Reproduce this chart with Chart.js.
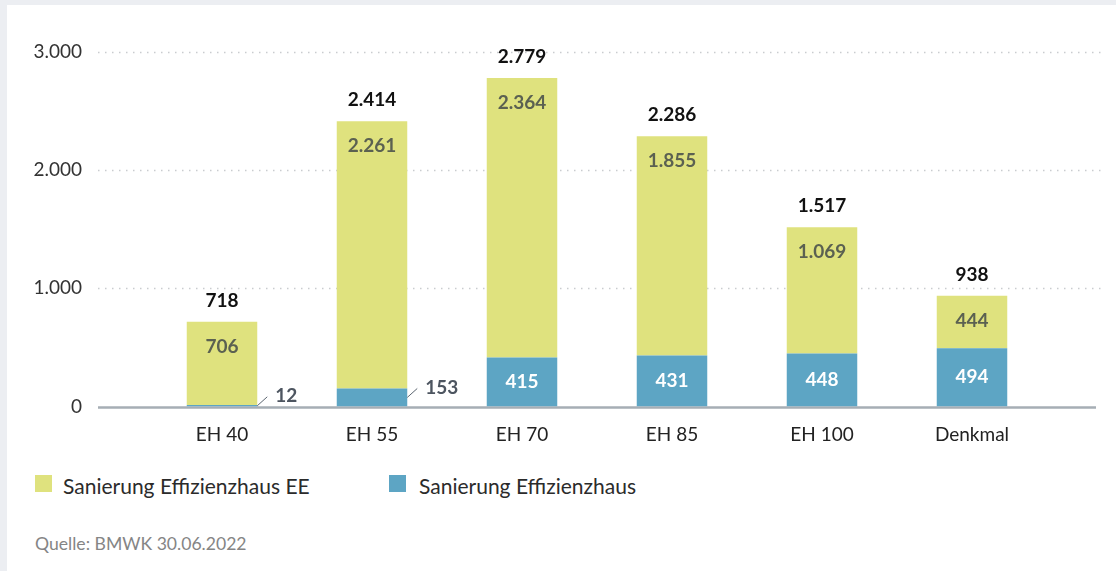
<!DOCTYPE html>
<html lang="de">
<head>
    <meta charset="UTF-8">
    <title>Sanierung Effizienzhaus</title>
    <script src="https://cdn.jsdelivr.net/npm/chart.js"></script>
    <style>
        html, body { margin: 0; padding: 0; }
        body { background: #eceef2; width: 1116px; height: 571px; overflow: hidden; font-family: Lato, sans-serif; }
        .card { position: absolute; left: 7px; top: 5px; width: 1109px; height: 566px; background: #fff; }
        .chart-box { position: absolute; left: 0; top: 0; width: 1109px; height: 455px; }
        .legend { position: absolute; top: 469px; left: 0; font-size: 21px; color: #2b2b2b; }
        .legend span.item { position: absolute; white-space: nowrap; line-height: 24px; }
        .legend i { position: absolute; width: 17px; height: 17px; top: 1px; }
        .source { position: absolute; left: 28px; top: 528px; font-size: 17.6px; line-height: 22px; color: #858585; }
    </style>
</head>
<body>
    <div class="card">
        <div class="chart-box"><canvas id="chart"></canvas></div>
        <div class="legend">
            <span class="item" style="left:28px"><i style="left:0;background:#dfe27e"></i><span style="margin-left:28px">Sanierung Effizienzhaus EE</span></span>
            <span class="item" style="left:382px"><i style="left:0;background:#5da5c4"></i><span style="margin-left:30px">Sanierung Effizienzhaus</span></span>
        </div>
        <div class="source">Quelle: BMWK 30.06.2022</div>
    </div>

    <script>
        const categories = ["EH 40", "EH 55", "EH 70", "EH 85", "EH 100", "Denkmal"];
        const effizienzhaus = [12, 153, 415, 431, 448, 494];
        const effizienzhausEE = [706, 2261, 2364, 1855, 1069, 444];
        const yTicks = [0, 1000, 2000, 3000];

        function fmt(n) {
            return String(n).replace(/\B(?=(\d{3})+(?!\d))/g, ".");
        }

        // dotted grid + solid zero line, a bit wider than the plot area
        const gridPlugin = {
            id: "grid",
            beforeDatasetsDraw(chart) {
                const { ctx, chartArea, scales } = chart;
                ctx.save();
                ctx.lineWidth = 1.5;
                ctx.strokeStyle = "#c9cccf";
                ctx.setLineDash([1.5, 5.5]);
                yTicks.forEach(v => {
                    if (v === 0) return;
                    const y = Math.round(scales.y.getPixelForValue(v)) + 0.5;
                    ctx.beginPath();
                    ctx.moveTo(chartArea.left - 49, y);
                    ctx.lineTo(chartArea.right + 57, y);
                    ctx.stroke();
                });
                ctx.setLineDash([]);
                ctx.lineWidth = 2.5;
                ctx.strokeStyle = "#a6aeb5";
                const y0 = scales.y.getPixelForValue(0) + 1;
                ctx.beginPath();
                ctx.moveTo(chartArea.left - 49, y0);
                ctx.lineTo(chartArea.right + 49, y0);
                ctx.stroke();
                ctx.restore();
            }
        };

        // value labels inside bars, totals on top, leader lines for small values
        const labelPlugin = {
            id: "labels",
            afterDatasetsDraw(chart) {
                const { ctx } = chart;
                const blue = chart.getDatasetMeta(0).data;
                const yellow = chart.getDatasetMeta(1).data;
                ctx.save();
                ctx.textBaseline = "middle";
                ctx.font = "bold 19px Lato, sans-serif";
                categories.forEach((c, i) => {
                    const b = blue[i], yl = yellow[i];
                    // yellow segment
                    ctx.textAlign = "center";
                    ctx.fillStyle = "#5b6151";
                    ctx.fillText(fmt(effizienzhausEE[i]), yl.x, yl.y + 25);
                    // total
                    ctx.fillStyle = "#111";
                    ctx.fillText(fmt(effizienzhaus[i] + effizienzhausEE[i]), yl.x, yl.y - 21);
                    // blue segment
                    const h = b.base - b.y;
                    if (h > 30) {
                        ctx.fillStyle = "#fff";
                        ctx.fillText(fmt(effizienzhaus[i]), b.x, (b.y + b.base) / 2);
                    } else {
                        const x0 = b.x + b.width / 2;
                        const y0 = (b.y + b.base) / 2;
                        ctx.strokeStyle = "#5b6570";
                        ctx.lineWidth = 1;
                        ctx.beginPath();
                        ctx.moveTo(x0, y0);
                        ctx.lineTo(x0 + 10, y0 - 9);
                        ctx.stroke();
                        ctx.textAlign = "left";
                        ctx.fillStyle = "#4d5560";
                        ctx.fillText(fmt(effizienzhaus[i]), x0 + 18, y0 - 10);
                    }
                });
                ctx.restore();
            }
        };

        new Chart(document.getElementById("chart"), {
            type: "bar",
            data: {
                labels: categories,
                datasets: [
                    {
                        label: "Sanierung Effizienzhaus",
                        data: effizienzhaus,
                        backgroundColor: "#5da5c4",
                        barPercentage: 1,
                        categoryPercentage: 0.47
                    },
                    {
                        label: "Sanierung Effizienzhaus EE",
                        data: effizienzhausEE,
                        backgroundColor: "#dfe27e",
                        barPercentage: 1,
                        categoryPercentage: 0.47
                    }
                ]
            },
            options: {
                responsive: true,
                maintainAspectRatio: false,
                animation: false,
                layout: { padding: { top: 47, right: 69, bottom: 0, left: 0 } },
                plugins: {
                    legend: { display: false },
                    tooltip: { enabled: false }
                },
                scales: {
                    x: {
                        stacked: true,
                        grid: { display: false },
                        border: { display: false },
                        ticks: { color: "#222", font: { family: "Lato", size: 19 }, padding: 9 },
                        afterFit(scale) { scale.height = 53.5; }
                    },
                    y: {
                        stacked: true,
                        min: 0,
                        max: 3000,
                        grid: { display: false },
                        border: { display: false },
                        afterBuildTicks(scale) { scale.ticks = yTicks.map(v => ({ value: v })); },
                        ticks: {
                            color: "#333",
                            font: { family: "Lato", size: 19 },
                            padding: 57,
                            callback: v => fmt(v)
                        },
                        afterFit(scale) {
                            scale.width = 140;
                            scale.paddingTop = 0;
                            scale.paddingBottom = 0;
                        }
                    }
                }
            },
            plugins: [gridPlugin, labelPlugin]
        });
    </script>
</body>
</html>
